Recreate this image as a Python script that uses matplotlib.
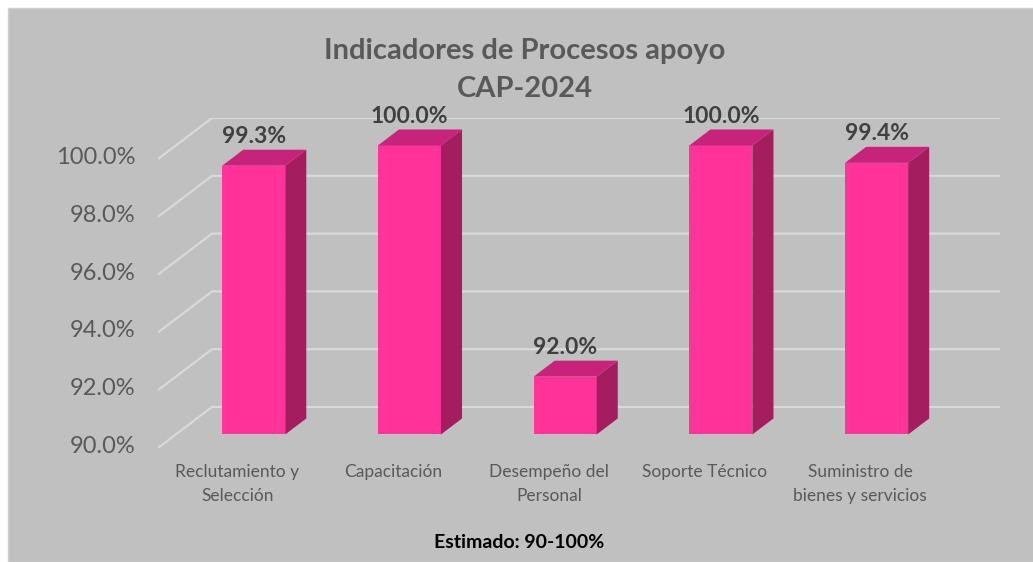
import matplotlib.pyplot as plt
from matplotlib.patches import Polygon

categories = ["Reclutamiento y\nSelección", "Capacitación", "Desempeño del\nPersonal",
              "Soporte Técnico", "Suministro de\nbienes y servicios"]
values = [99.3, 100.0, 92.0, 100.0, 99.4]
yticks = [90, 92, 94, 96, 98, 100]

title = "Indicadores de Procesos apoyo\nCAP-2024"
footer = "Estimado: 90-100%"

FONT = ["Lato", "DejaVu Sans"]
BG = "#c0c0c0"
FRONT = "#ff3399"
TOP = "#c8237a"
SIDE = "#a31d5f"
GRID = "#d9d9d9"

# oblique 3D: depth offset in data units (x in category slots, y in %)
ddx, ddy = 0.347, 1.42
d0, d1 = 0.33, 0.72   # bar front / back depth fraction
bw = 0.405            # bar width
ymin = 90

fig = plt.figure(figsize=(10.33, 5.62), dpi=100)
fig.patch.set_facecolor("white")
fig.add_artist(plt.Rectangle((8 / 1033, 0), 1, 1 - 8 / 562, transform=fig.transFigure,
                             facecolor=BG, edgecolor="#d0d0d0", lw=1, zorder=0))

# axes: x=-0.5 at px 158, right at px 1000; y=90 at py 448, top at py 118
xr = 4.5 + ddx + 0.06
ax = fig.add_axes([158 / 1033, (562 - 448) / 562, (1000 - 158) / 1033, (448 - 118) / 562])
ax.set_xlim(-0.5, xr)
ax.set_ylim(ymin, 100 + ddy)
ax.set_facecolor("none")
ax.axis("off")

for v in yticks:
    ax.plot([-0.5, -0.5 + ddx, xr], [v, v + ddy, v + ddy], color=GRID, lw=1.6,
            solid_capstyle="butt", zorder=1)
    ax.text(-0.5 - 0.145, v + 0.05, f"{v:.1f}%", ha="right", va="center",
            fontsize=17, color="#595959", family=FONT)

for i, (cat, val) in enumerate(zip(categories, values)):
    xl = i - bw / 2 + d0 * ddx
    xr_ = xl + bw
    yb = ymin + d0 * ddy
    yt = val + d0 * ddy
    sx = (d1 - d0) * ddx
    sy = (d1 - d0) * ddy
    ax.add_patch(Polygon([(xl, yb), (xr_, yb), (xr_, yt), (xl, yt)], closed=True,
                         facecolor=FRONT, edgecolor="none", zorder=3))
    ax.add_patch(Polygon([(xr_, yb), (xr_ + sx, yb + sy), (xr_ + sx, yt + sy), (xr_, yt)],
                         closed=True, facecolor=SIDE, edgecolor="none", zorder=3))
    ax.add_patch(Polygon([(xl, yt), (xr_, yt), (xr_ + sx, yt + sy), (xl + sx, yt + sy)],
                         closed=True, facecolor=TOP, edgecolor="none", zorder=3))
    ax.text((xl + xr_) / 2, yt + sy + 0.1, f"{val:.1f}%", ha="center", va="bottom",
            fontsize=16.5, fontweight="bold", color="#404040", family=FONT, zorder=4)
    ax.text(i + 0.01, ymin - 0.55, cat, ha="center", va="top", fontsize=12.5,
            color="#595959", family=FONT, linespacing=1.6)

fig.text(525 / 1033, 1 - 38 / 562, title, ha="center", va="top", fontsize=21,
         fontweight="bold", color="#595959", family=FONT, linespacing=1.55)
fig.text(519 / 1033, 1 - 548 / 562, footer, ha="center", va="baseline", fontsize=14,
         fontweight="bold", color="black", family=FONT)

fig.savefig("out.png", dpi=100)
